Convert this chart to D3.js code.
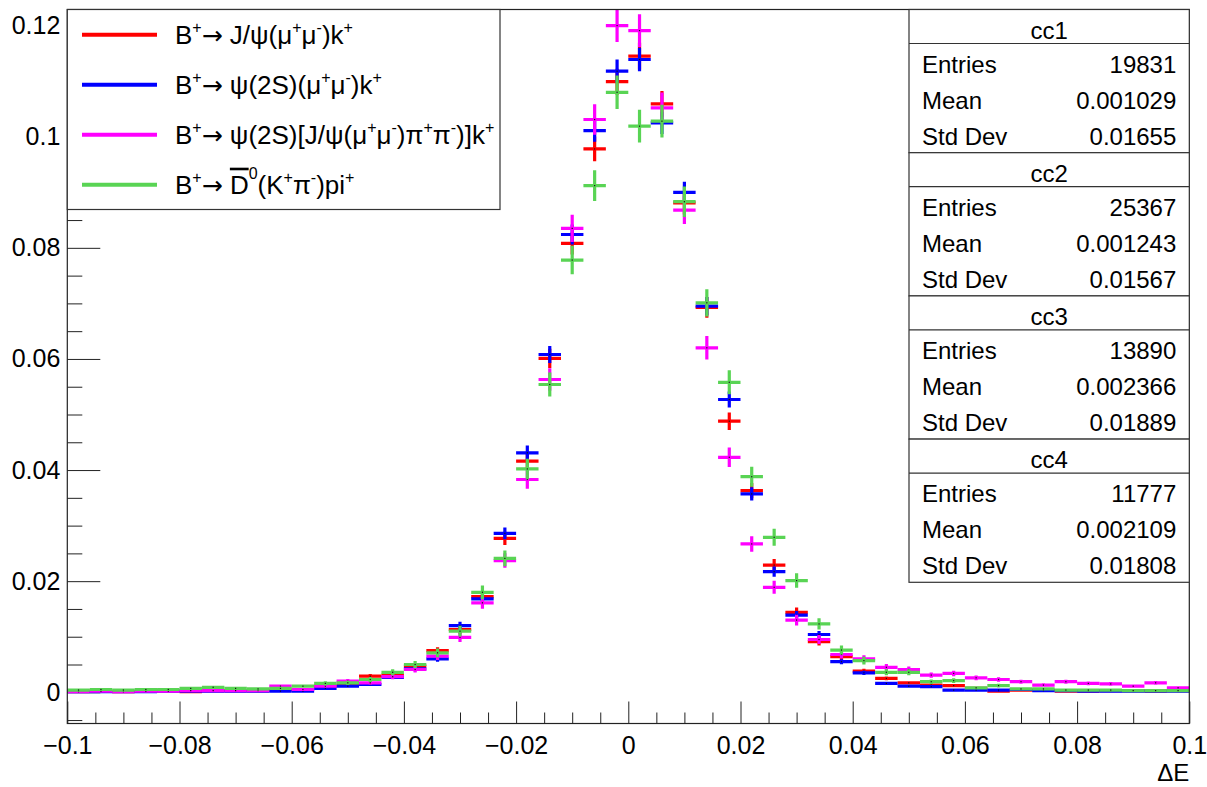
<!DOCTYPE html>
<html>
<head>
<meta charset="utf-8">
<script src="https://cdn.jsdelivr.net/npm/d3@7"></script>
<style>
  body { margin: 0; background: #fff; }
  svg { display: block; font-family: "Liberation Sans", Arial, Helvetica, sans-serif; }
  .tick line { stroke: #222; }
</style>
</head>
<body>
<svg id="chart" width="1207" height="787"></svg>
<script>
// binning of the Delta E histograms
const nBins = 50;
const xMin = -0.1, xMax = 0.1;

// bin contents (normalised)
const cc1Values = [0.0002, 0.0002, 0.0001, 0.0002, 0.0003, 0.0001, 0.0003, 0.0003, 0.0003, 0.0004,
                   0.0005, 0.0011, 0.0013, 0.0029, 0.0031, 0.0047, 0.0075, 0.0113, 0.0172, 0.0277,
                   0.0416, 0.0601, 0.0808, 0.0978, 0.1099, 0.1145, 0.1059, 0.0881, 0.0693, 0.0488,
                   0.0363, 0.0229, 0.0144, 0.0091, 0.0064, 0.0038, 0.0025, 0.0017, 0.0013, 0.0012,
                   0.0007, 0.0002, 0.0004, 0.0004, 0.0002, 0.0002, 0.0003, 0.0003, 0.0002, 0.0003];
const cc2Values = [0.0001, 0.0001, 0.0001, 0.0001, 0.0002, 0.0002, 0.0002, 0.0002, 0.0002, 0.0002,
                   0.0002, 0.0007, 0.0011, 0.0014, 0.0027, 0.0042, 0.0060, 0.0120, 0.0168, 0.0286,
                   0.0431, 0.0608, 0.0824, 0.1011, 0.1118, 0.1139, 0.1025, 0.0900, 0.0695, 0.0527,
                   0.0357, 0.0217, 0.0139, 0.0104, 0.0055, 0.0035, 0.0016, 0.0011, 0.0010, 0.0004,
                   0.0004, 0.0004, 0.0005, 0.0003, 0.0003, 0.0002, 0.0002, 0.0002, 0.0002, 0.0002];
const cc3Values = [0.0001, 0.0002, 0.0001, 0.0002, 0.0002, 0.0003, 0.0003, 0.0003, 0.0003, 0.0011,
                   0.0005, 0.0011, 0.0020, 0.0017, 0.0028, 0.0041, 0.0065, 0.0099, 0.0161, 0.0237,
                   0.0383, 0.0563, 0.0835, 0.1031, 0.1200, 0.1191, 0.1052, 0.0868, 0.0620, 0.0423,
                   0.0267, 0.0189, 0.0130, 0.0095, 0.0068, 0.0060, 0.0045, 0.0041, 0.0031, 0.0034,
                   0.0026, 0.0023, 0.0019, 0.0013, 0.0019, 0.0016, 0.0015, 0.0011, 0.0017, 0.0008];
const cc4Values = [0.0004, 0.0005, 0.0004, 0.0005, 0.0005, 0.0007, 0.0009, 0.0007, 0.0006, 0.0007,
                   0.0011, 0.0016, 0.0017, 0.0023, 0.0036, 0.0050, 0.0071, 0.0110, 0.0180, 0.0241,
                   0.0402, 0.0554, 0.0778, 0.0912, 0.1080, 0.1019, 0.1028, 0.0883, 0.0701, 0.0558,
                   0.0388, 0.0279, 0.0201, 0.0123, 0.0076, 0.0057, 0.0036, 0.0036, 0.0019, 0.0021,
                   0.0008, 0.0012, 0.0006, 0.0006, 0.0004, 0.0004, 0.0004, 0.0003, 0.0003, 0.0003];

const histNames = ["cc1", "cc2", "cc3", "cc4"];
const histColors = ["#ff0000", "#0000ff", "#ff00ff", "#59d454"];
const histEntries = [19831, 25367, 13890, 11777];
const histMeans = ["0.001029", "0.001243", "0.002366", "0.002109"];
const histStdDevs = ["0.01655", "0.01567", "0.01889", "0.01808"];

const yMajorTicks = [0, 0.02, 0.04, 0.06, 0.08, 0.1, 0.12];
const xMajorTicks = [-0.1, -0.08, -0.06, -0.04, -0.02, 0, 0.02, 0.04, 0.06, 0.08, 0.1];

// legend entries as [text, "n"|"sup"|"supHigh"|"over"|"arrow"]
const legendLabels = [
    [["B", "n"], ["+", "sup"], ["\u2192", "arrow"], [" J/\u03c8(\u03bc", "n"], ["+", "sup"], ["\u03bc", "n"], ["-", "sup"], [")k", "n"], ["+", "sup"]],
    [["B", "n"], ["+", "sup"], ["\u2192", "arrow"], [" \u03c8(2S)(\u03bc", "n"], ["+", "sup"], ["\u03bc", "n"], ["-", "sup"], [")k", "n"], ["+", "sup"]],
    [["B", "n"], ["+", "sup"], ["\u2192", "arrow"], [" \u03c8(2S)[J/\u03c8(\u03bc", "n"], ["+", "sup"], ["\u03bc", "n"], ["-", "sup"], [")\u03c0", "n"], ["+", "sup"], ["\u03c0", "n"], ["-", "sup"], [")]k", "n"], ["+", "sup"]],
    [["B", "n"], ["+", "sup"], ["\u2192", "arrow"], [" ", "n"], ["D", "over"], ["0", "supHigh"], ["(K", "n"], ["+", "sup"], ["\u03c0", "n"], ["-", "sup"], [")pi", "n"], ["+", "sup"]]
];

const series = [cc1Values, cc2Values, cc3Values, cc4Values];

const svg = d3.select("#chart");
const frame = { left: 67.3, right: 1189.3, top: 9.5, bottom: 723.5 };

const x = d3.scaleLinear().domain([xMin, xMax]).range([frame.left, frame.right]);
const y = d3.scaleLinear().domain([-0.00562, 0.1229]).range([frame.bottom, frame.top]);
const binWidth = (xMax - xMin) / nBins;

svg.append("rect").attr("width", 1207).attr("height", 787).attr("fill", "#fff");

// axes
const yMinor = d3.range(-0.005, 0.1226, 0.005).filter(v => !yMajorTicks.some(t => Math.abs(t - v) < 1e-9));
const xMinor = d3.range(-0.1, 0.1001, 0.005).filter(v => !xMajorTicks.some(t => Math.abs(t - v) < 1e-9));
const fmt = v => (v < 0 ? "\u2212" : "") + d3.format("")(+Math.abs(v).toFixed(3));

svg.append("g").attr("transform", `translate(${frame.left},0)`)
    .call(d3.axisLeft(y).tickValues(yMinor).tickSize(-15).tickFormat(""))
    .call(g => g.select(".domain").remove());
svg.append("g").attr("transform", `translate(${frame.left},0)`)
    .call(d3.axisLeft(y).tickValues(yMajorTicks).tickSize(-33).tickPadding(7).tickFormat(fmt))
    .call(g => g.select(".domain").remove())
    .call(g => g.selectAll("text").attr("font-size", 25).attr("fill", "#000").attr("font-family", null));

svg.append("g").attr("transform", `translate(0,${frame.bottom})`)
    .call(d3.axisBottom(x).tickValues(xMinor).tickSize(-11).tickFormat(""))
    .call(g => g.select(".domain").remove());
svg.append("g").attr("transform", `translate(0,${frame.bottom})`)
    .call(d3.axisBottom(x).tickValues(xMajorTicks).tickSize(-22).tickPadding(13).tickFormat(fmt))
    .call(g => g.select(".domain").remove())
    .call(g => g.selectAll("text").attr("font-size", 25).attr("fill", "#000").attr("font-family", null));

svg.append("text")
    .attr("x", frame.right).attr("y", 781)
    .attr("text-anchor", "end").attr("font-size", 24)
    .text("\u0394E");

// histograms, drawn as error crosses
series.forEach((values, k) => {
    const g = svg.append("g").attr("class", "hist " + histNames[k]);
    const bins = values.map((v, i) => ({
        lo: xMin + i * binWidth,
        hi: xMin + (i + 1) * binWidth,
        v: v,
        err: Math.sqrt(v / histEntries[k])
    }));
    g.selectAll("path").data(bins).join("path")
        .attr("d", d => {
            const xc = x((d.lo + d.hi) / 2);
            return `M${x(d.lo)},${y(d.v)}H${x(d.hi)}M${xc},${y(d.v + d.err)}V${y(d.v - d.err)}`;
        })
        .attr("fill", "none")
        .attr("stroke", histColors[k])
        .attr("stroke-width", 3.2);
    g.selectAll("rect").data(bins).join("rect")
        .attr("x", d => x((d.lo + d.hi) / 2) - 0.6)
        .attr("y", d => y(d.v) - 0.6)
        .attr("width", 1.2).attr("height", 1.2)
        .attr("fill", "#111");
});

// frame
svg.append("rect")
    .attr("x", frame.left).attr("y", frame.top)
    .attr("width", frame.right - frame.left).attr("height", frame.bottom - frame.top)
    .attr("fill", "none").attr("stroke", "#222").attr("stroke-width", 1.2);

// legend
const legend = svg.append("g").attr("class", "legend");
legend.append("rect")
    .attr("x", frame.left).attr("y", frame.top)
    .attr("width", 500 - frame.left).attr("height", 200)
    .attr("fill", "#fff").attr("stroke", "#333").attr("stroke-width", 1.2);

legendLabels.forEach((parts, k) => {
    const ly = 34.7 + k * 50;
    legend.append("line")
        .attr("x1", 82).attr("x2", 157).attr("y1", ly).attr("y2", ly)
        .attr("stroke", histColors[k]).attr("stroke-width", 4);
    const t = legend.append("text")
        .attr("x", 175).attr("y", ly + 9)
        .attr("font-size", 26);
    let shift = 0;
    parts.forEach(([s, kind]) => {
        const target = kind === "sup" ? -11 : kind === "supHigh" ? -15 : 0;
        const ts = t.append("tspan").attr("dy", target - shift).text(s);
        if (kind === "sup" || kind === "supHigh") ts.attr("font-size", 16);
        if (kind === "over") ts.attr("text-decoration", "overline");
        if (kind === "arrow") ts.attr("font-family", "DejaVu Sans").attr("font-size", 25);
        shift = target;
    });
});

// stat boxes
const boxLeft = 909, boxRight = frame.right, boxH = 143.2;
histNames.forEach((name, k) => {
    const top = frame.top + k * boxH;
    const g = svg.append("g").attr("class", "stats");
    g.append("rect")
        .attr("x", boxLeft).attr("y", top)
        .attr("width", boxRight - boxLeft).attr("height", boxH)
        .attr("fill", "#fff").attr("stroke", "#333").attr("stroke-width", 1.2);
    g.append("line")
        .attr("x1", boxLeft).attr("x2", boxRight).attr("y1", top + 34).attr("y2", top + 34)
        .attr("stroke", "#333").attr("stroke-width", 1.2);
    g.append("text")
        .attr("x", (boxLeft + boxRight) / 2).attr("y", top + 20.5 + 8.5)
        .attr("text-anchor", "middle").attr("font-size", 24)
        .text(name);
    const rows = [["Entries", histEntries[k]], ["Mean", histMeans[k]], ["Std Dev", histStdDevs[k]]];
    rows.forEach(([label, val], r) => {
        const ry = top + 54.5 + r * 36 + 8.5;
        g.append("text").attr("x", boxLeft + 13).attr("y", ry).attr("font-size", 24).text(label);
        g.append("text").attr("x", boxRight - 13).attr("y", ry)
            .attr("text-anchor", "end").attr("font-size", 24).text(val);
    });
});
</script>
</body>
</html>
